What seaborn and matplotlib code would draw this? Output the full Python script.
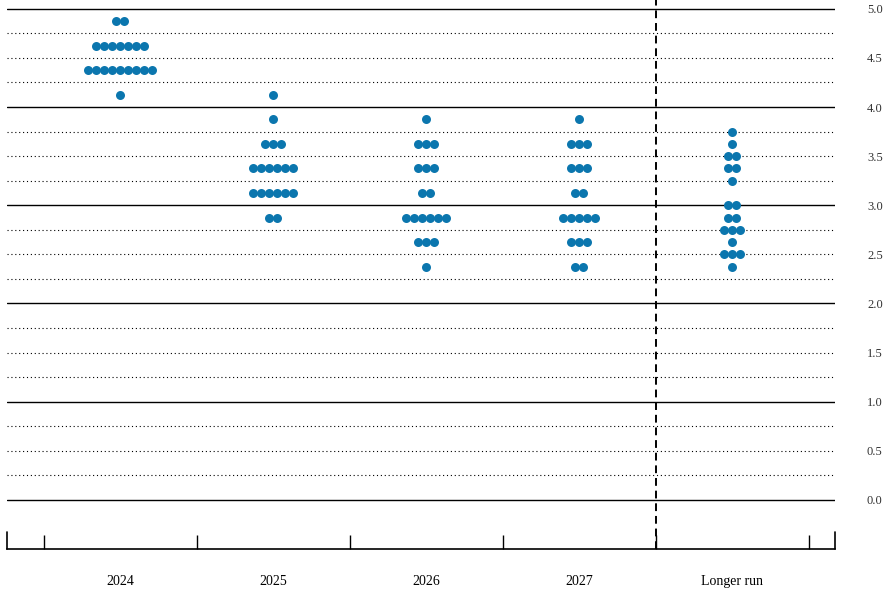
import pandas as pd
import matplotlib
matplotlib.use('Agg')
import matplotlib.pyplot as plt
import seaborn as sns

# categorias do eixo x
categorias = ['2024', '2025', '2026', '2027', 'Longer run']

# taxas (ponto médio) e número de participantes em cada taxa
taxas_2024 = [4.875, 4.625, 4.375, 4.125]
qtd_2024 = [2, 7, 9, 1]

taxas_2025 = [4.125, 3.875, 3.625, 3.375, 3.125, 2.875]
qtd_2025 = [1, 1, 3, 6, 6, 2]

taxas_2026 = [3.875, 3.625, 3.375, 3.125, 2.875, 2.625, 2.375]
qtd_2026 = [1, 3, 3, 2, 6, 3, 1]

taxas_2027 = [3.875, 3.625, 3.375, 3.125, 2.875, 2.625, 2.375]
qtd_2027 = [1, 3, 3, 2, 5, 3, 2]

taxas_longo = [3.75, 3.625, 3.5, 3.375, 3.25, 3.0, 2.875, 2.75, 2.625, 2.5, 2.375]
qtd_longo = [1, 1, 2, 2, 1, 2, 2, 3, 1, 3, 1]

rotulos_y = ['0.0', '0.5', '1.0', '1.5', '2.0', '2.5', '3.0', '3.5', '4.0', '4.5', '5.0']

# monta a tabela com um ponto por participante
dados = [(taxas_2024, qtd_2024), (taxas_2025, qtd_2025), (taxas_2026, qtd_2026),
         (taxas_2027, qtd_2027), (taxas_longo, qtd_longo)]
espaco = 0.0525  # distancia horizontal entre pontos (unidades de categoria)
linhas = []
for i, (taxas, qtds) in enumerate(dados):
    for t, n in zip(taxas, qtds):
        for k in range(n):
            linhas.append({'x': i + (k - (n - 1) / 2) * espaco, 'taxa': t})
df = pd.DataFrame(linhas)

sns.set_style('white')
plt.rcParams['font.family'] = ['Liberation Serif', 'DejaVu Serif']

fig = plt.figure(figsize=(8.92, 6.01), dpi=100)
ax = fig.add_axes([7 / 892, 1 - 549 / 601, 828 / 892, 549 / 601])

xmin, xmax = -0.739, 4.673
ymin, ymax = -0.5, 5.09

# linhas horizontais: cheias nos inteiros, pontilhadas nos quartos
for j in range(21):
    v = j * 0.25
    if j % 4 == 0:
        ax.axhline(v, color='black', lw=1.0, zorder=1)
    else:
        ax.axhline(v, color='black', lw=0.8, ls=(0, (1, 2.5)), zorder=1)

# linha tracejada separando o longo prazo
ax.axvline(3.5, color='black', lw=1.4, ls=(0, (4, 2.5)), zorder=1)

sns.scatterplot(data=df, x='x', y='taxa', ax=ax, color='#0b76ae',
                s=42, linewidth=0, zorder=3, legend=False)

ax.set_xlim(xmin, xmax)
ax.set_ylim(ymin, ymax)

# eixos
for lado in ['left', 'right', 'top']:
    ax.spines[lado].set_visible(False)
ax.spines['bottom'].set_color('black')
ax.spines['bottom'].set_linewidth(1.2)

# marcas nas fronteiras das categorias
ax.set_xticks(range(len(categorias)))
ax.set_xticklabels(categorias, fontsize=10, color='black')
ax.tick_params(axis='x', which='major', bottom=True, length=0, pad=19)
ax.set_xticks([i + 0.5 for i in range(-1, len(categorias))], minor=True)
ax.tick_params(axis='x', which='minor', bottom=True, direction='in',
               length=10, width=1.0, color='black')
for borda in [xmin, xmax]:
    ax.axvline(borda, ymin=0, ymax=17 / 549, color='black', lw=1.2, clip_on=False)

ax.yaxis.tick_right()
ax.set_yticks([j * 0.5 for j in range(len(rotulos_y))])
ax.set_yticklabels(rotulos_y, fontsize=9, color='#333333')
ax.tick_params(axis='y', length=0, pad=23)

ax.set_xlabel('')
ax.set_ylabel('')

plt.savefig('out.png', dpi=100)
